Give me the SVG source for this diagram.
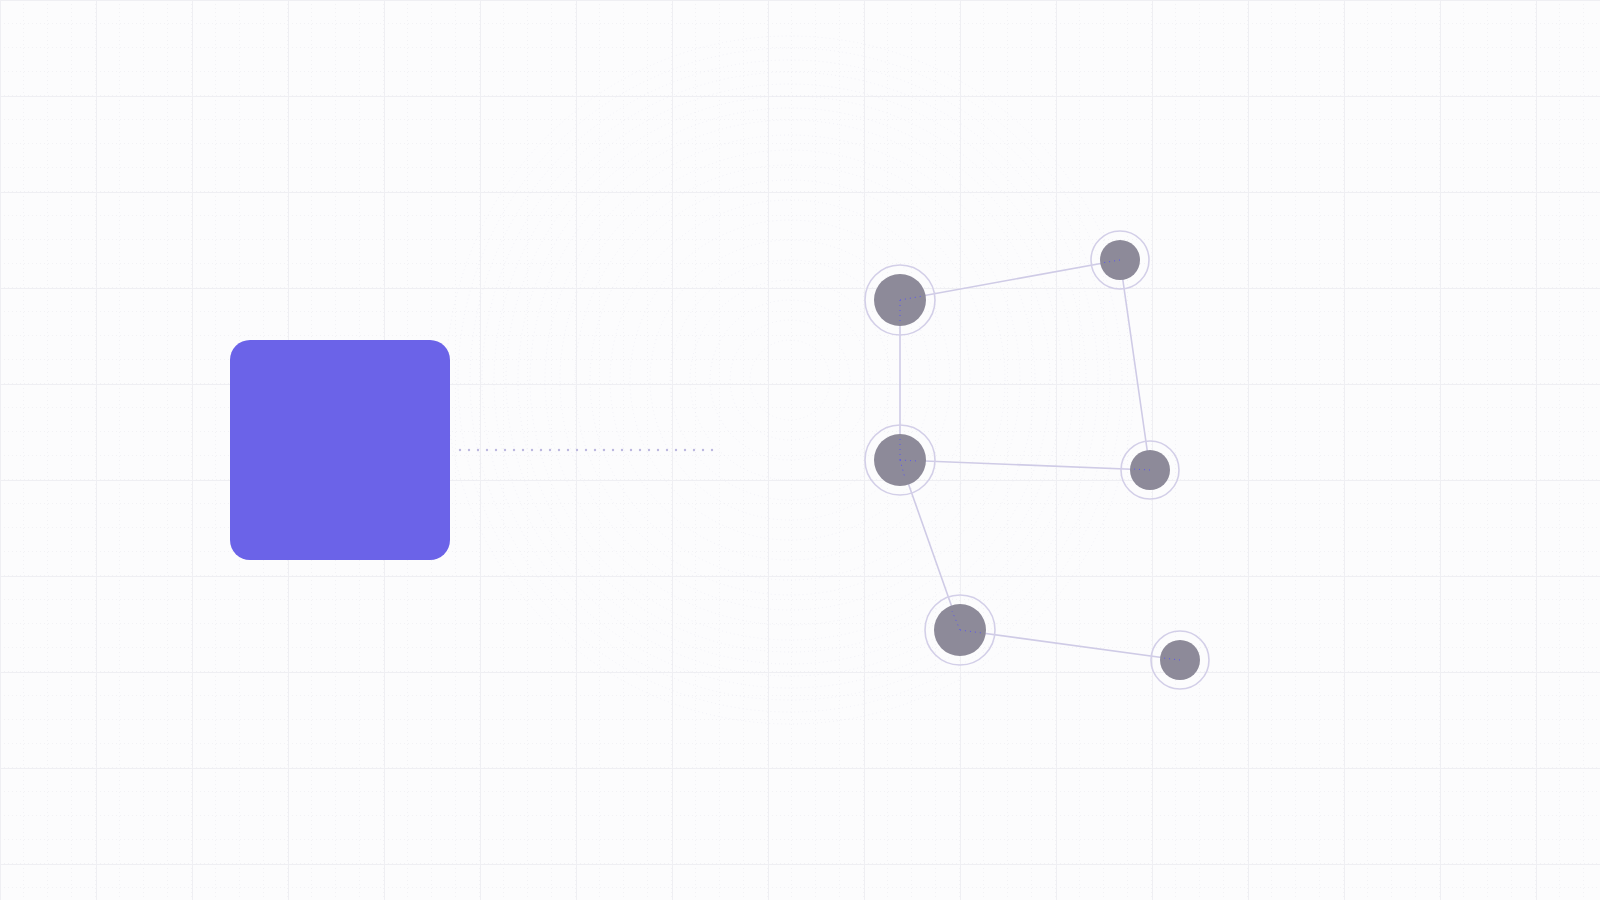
<svg xmlns="http://www.w3.org/2000/svg" width="1600" height="900" viewBox="0 0 1600 900">
  <defs>
    <pattern id="minor" width="24" height="24" patternUnits="userSpaceOnUse">
      <path d="M24 0V24M0 24H24" fill="none" stroke="#e8e8ec" stroke-width="1" stroke-dasharray="1 3"/>
    </pattern>
    <pattern id="major" width="96" height="96" patternUnits="userSpaceOnUse">
      <path d="M0 0V96M0 0H96" fill="none" stroke="#efeff3" stroke-width="2"/>
    </pattern>
  </defs>
  <style>
    .edge { stroke: #cfcbe6; stroke-width: 1.6; fill: none; }
    .ring { fill: none; stroke: #d3cfe8; stroke-width: 1.6; }
    .core { fill: #8d8a99; }
    .flow { stroke: #5b56f0; stroke-width: 1; stroke-dasharray: 1 4; fill: none; }
    .ripple { fill: none; stroke: #e6e6f0; stroke-width: 0.8; stroke-dasharray: 1 3; opacity: 0.6; }
  </style>
  <rect width="1600" height="900" fill="#fcfcfd"/>
  <rect width="1600" height="900" fill="url(#minor)"/>
  <rect width="1600" height="900" fill="url(#major)"/>

  <g id="ripples">
    <circle class="ripple" cx="790" cy="380" r="40"/>
    <circle class="ripple" cx="790" cy="380" r="60"/>
    <circle class="ripple" cx="790" cy="380" r="80"/>
    <circle class="ripple" cx="790" cy="380" r="100"/>
    <circle class="ripple" cx="790" cy="380" r="120"/>
    <circle class="ripple" cx="790" cy="380" r="140"/>
    <circle class="ripple" cx="790" cy="380" r="160"/>
    <circle class="ripple" cx="790" cy="380" r="180"/>
    <circle class="ripple" cx="790" cy="380" r="200"/>
    <circle class="ripple" cx="790" cy="380" r="215"/>
    <circle class="ripple" cx="790" cy="380" r="230"/>
    <circle class="ripple" cx="790" cy="380" r="245"/>
    <circle class="ripple" cx="790" cy="380" r="260"/>
    <circle class="ripple" cx="790" cy="380" r="272"/>
    <circle class="ripple" cx="790" cy="380" r="284"/>
    <circle class="ripple" cx="790" cy="380" r="296"/>
    <circle class="ripple" cx="790" cy="380" r="308"/>
    <circle class="ripple" cx="790" cy="380" r="320"/>
    <circle class="ripple" cx="790" cy="380" r="332"/>
    <circle class="ripple" cx="790" cy="380" r="344"/>
  </g>

  <g id="connectors">
    <line class="edge" x1="900" y1="300" x2="1120" y2="260"/>
    <line class="edge" x1="1120" y1="260" x2="1150" y2="470"/>
    <line class="edge" x1="900" y1="300" x2="900" y2="460"/>
    <line class="edge" x1="900" y1="460" x2="1150" y2="470"/>
    <line class="edge" x1="900" y1="460" x2="960" y2="630"/>
    <line class="edge" x1="960" y1="630" x2="1180" y2="660"/>
    <line x1="460" y1="450" x2="715" y2="450" stroke="#bdb9df" stroke-width="2.4" stroke-linecap="round" stroke-dasharray="0 9"/>
  </g>

  <g id="block">
    <rect x="230" y="340" width="220" height="220" rx="20" fill="#6b63e8"/>
  </g>

  <g id="node-a">
    <circle class="ring" cx="900" cy="300" r="35"/>
    <circle class="core" cx="900" cy="300" r="26"/>
    <path class="flow" d="M900 300L923 296M900 300V324"/>
  </g>
  <g id="node-b">
    <circle class="ring" cx="1120" cy="260" r="29"/>
    <circle class="core" cx="1120" cy="260" r="20"/>
    <path class="flow" d="M1120 260L1101 263"/>
  </g>
  <g id="node-c">
    <circle class="ring" cx="900" cy="460" r="35"/>
    <circle class="core" cx="900" cy="460" r="26"/>
    <path class="flow" d="M900 460V438M900 460L905 478M900 460L918 461"/>
  </g>
  <g id="node-d">
    <circle class="ring" cx="1150" cy="470" r="29"/>
    <circle class="core" cx="1150" cy="470" r="20"/>
    <path class="flow" d="M1150 470L1132 469"/>
  </g>
  <g id="node-e">
    <circle class="ring" cx="960" cy="630" r="35"/>
    <circle class="core" cx="960" cy="630" r="26"/>
    <path class="flow" d="M960 630L952 611M960 630L982 633"/>
  </g>
  <g id="node-f">
    <circle class="ring" cx="1180" cy="660" r="29"/>
    <circle class="core" cx="1180" cy="660" r="20"/>
    <path class="flow" d="M1180 660L1163 658"/>
  </g>
</svg>
